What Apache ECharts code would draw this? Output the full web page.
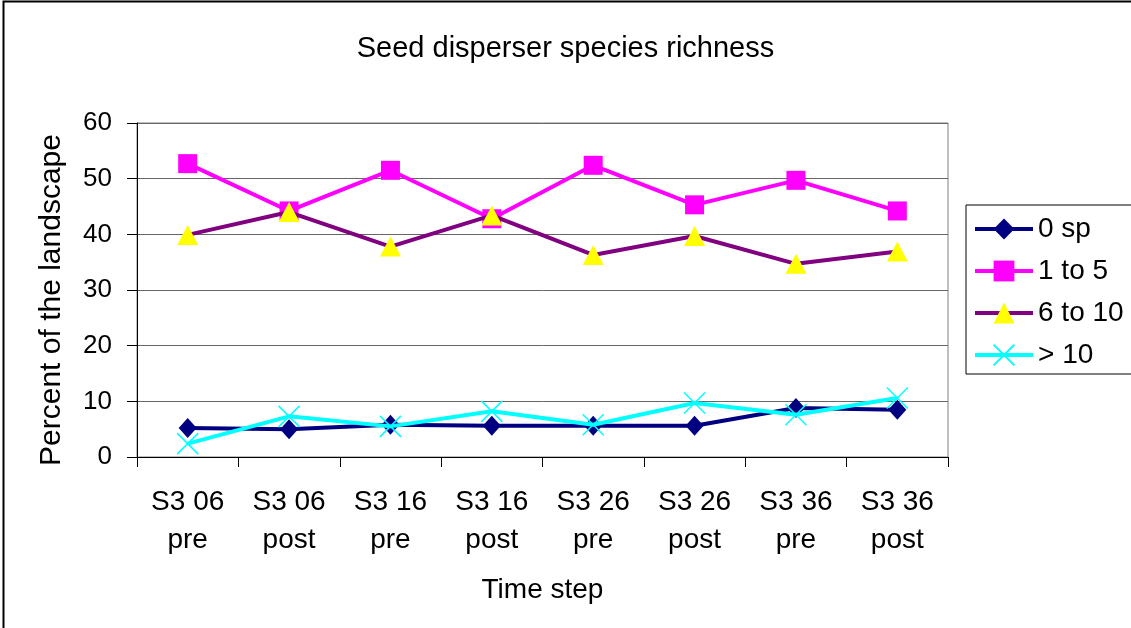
<!DOCTYPE html>
<html><head><meta charset="utf-8">
<script src="https://cdn.jsdelivr.net/npm/echarts@6/dist/echarts.min.js"></script>
<style>html,body{margin:0;padding:0;background:#fff}#c{width:1131px;height:628px}</style>
</head><body><div id="c"></div>
<script>
var categories = ['S3 06\npre','S3 06\npost','S3 16\npre','S3 16\npost','S3 26\npre','S3 26\npost','S3 36\npre','S3 36\npost'];
var sp0 = [5.2, 5.0, 5.8, 5.6, 5.6, 5.6, 8.8, 8.5];
var sp1to5 = [52.7, 44.2, 51.5, 42.8, 52.4, 45.3, 49.7, 44.2];
var sp6to10 = [39.9, 44.0, 37.8, 43.4, 36.3, 39.7, 34.7, 36.9];
var spOver10 = [2.4, 7.3, 5.5, 8.2, 5.8, 9.7, 7.6, 10.6];
var yTicks = [0, 10, 20, 30, 40, 50, 60];

var font = 'Liberation Sans, Arial, sans-serif';
var chart = echarts.init(document.getElementById('c'));
chart.setOption({
  animation: false,
  backgroundColor: '#fff',
  textStyle: {fontFamily: font},
  graphic: [{type: 'rect', shape: {x: 3.5, y: 1.5, width: 1140, height: 640}, style: {fill: 'none', stroke: '#000', lineWidth: 2}}],
  title: {text: 'Seed disperser species richness', left: 'center', top: 29,
    textStyle: {fontFamily: font, fontSize: 29, fontWeight: 'normal', color: '#000'}},
  grid: {left: 137, top: 123, width: 811, height: 334, containLabel: false,
    show: true, borderColor: '#808080', borderWidth: 1},
  legend: {
    orient: 'vertical', left: 966, top: 205, itemWidth: 58, itemHeight: 26, itemGap: 14,
    padding: [10, 8, 5, 7], borderColor: '#000', borderWidth: 1,
    lineStyle: {width: 4},
    textStyle: {fontFamily: font, fontSize: 28, color: '#000'},
    data: ['0 sp', '1 to 5', '6 to 10', '> 10']
  },
  xAxis: {
    type: 'category', data: categories, boundaryGap: true,
    name: 'Time step', nameLocation: 'middle', nameGap: 119,
    nameTextStyle: {fontFamily: font, fontSize: 28, color: '#000'},
    axisLine: {lineStyle: {color: '#000', width: 1}},
    axisTick: {show: true, length: 10, lineStyle: {color: '#000'}},
    axisLabel: {fontFamily: font, fontSize: 28, color: '#000', lineHeight: 38, margin: 26, interval: 0},
    splitLine: {show: false}
  },
  yAxis: {
    type: 'value', min: 0, max: 60, interval: 10,
    name: 'Percent of the landscape', nameLocation: 'middle', nameGap: 70, nameRotate: 90,
    nameTextStyle: {fontFamily: font, fontSize: 30, color: '#000', padding: [0, 20, 0, 0]},
    axisLine: {show: true, lineStyle: {color: '#000', width: 1}},
    axisTick: {show: true, length: 10, lineStyle: {color: '#000'}},
    axisLabel: {fontFamily: font, fontSize: 26, color: '#000', margin: 25,
      formatter: function (v) { return yTicks.indexOf(v) >= 0 ? String(v) : ''; }},
    splitLine: {show: true, lineStyle: {color: '#666', width: 1}}
  },
  series: [
    {name: '0 sp', type: 'line', data: sp0, symbol: 'diamond', symbolSize: [18, 20],
      lineStyle: {color: '#000080', width: 4}, itemStyle: {color: '#000080'}, z: 3},
    {name: '1 to 5', type: 'line', data: sp1to5, symbol: 'rect', symbolSize: 19,
      lineStyle: {color: '#FF00FF', width: 4}, itemStyle: {color: '#FF00FF'}, z: 2},
    {name: '6 to 10', type: 'line', data: sp6to10, symbol: 'triangle', symbolSize: [21, 20],
      lineStyle: {color: '#800080', width: 4}, itemStyle: {color: '#FFFF00'}, z: 4},
    {name: '> 10', type: 'line', data: spOver10, symbol: 'path://M0,0L10,10M10,0L0,10', symbolSize: 21,
      lineStyle: {color: '#00FFFF', width: 4}, itemStyle: {color: 'none', borderColor: '#00FFFF', borderWidth: 1.5}, z: 5}
  ]
});
</script></body></html>
